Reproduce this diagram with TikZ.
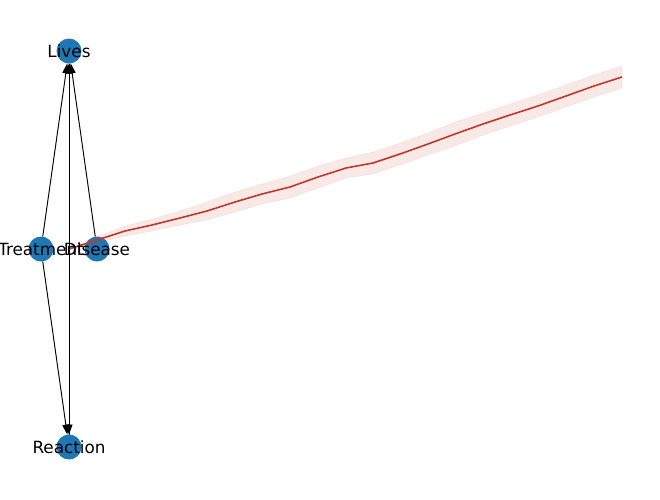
\documentclass[tikz,border=0pt]{standalone}
\usepackage{fontspec}
\setmainfont{DejaVu Sans}
\usetikzlibrary{arrows.meta}
\definecolor{nodeblue}{HTML}{1F77B4}
\definecolor{curvered}{RGB}{192,57,43}
\tikzset{
  vert/.style={circle, fill=nodeblue, draw=none, minimum size=25pt, inner sep=0pt, outer sep=0pt},
  lbl/.style={inner sep=0pt, font=\fontsize{16.8}{20}\selectfont, text=black},
  edge/.style={draw=black, line width=0.95pt, -{Triangle[length=10pt,width=7pt]}},
  curve/.style={draw=curvered, line width=1.6pt, line join=round},
  band/.style={fill=curvered, fill opacity=0.11, draw=curvered, draw opacity=0.08, line width=0.6pt}
}
\begin{document}
\begin{tikzpicture}[x=1pt,y=-1pt]
\clip (0,0) rectangle (660,499);
\fill[white] (0,0) rectangle (660,499);
% nodes
\node[vert] (L) at (69,51) {};
\node[vert] (T) at (41,249) {};
\node[vert] (D) at (97,249) {};
\node[vert] (R) at (69,447) {};
% edges
\draw[edge] (T) -- (L);
\draw[edge] (D) -- (L);
\draw[edge] (R) -- (L);
\draw[edge] (L) -- (R);
\draw[edge] (T) -- (R);
% band
\fill[band] (69,249) -- (97,237) -- (125,226) -- (152,219) -- (180,211) -- (207,202) -- (235,192) -- (262,184) -- (290,176) -- (318,166) -- (346,158) -- (373,152) -- (400,143) -- (428,133) -- (455,122) -- (483,113) -- (510,104) -- (538,95) -- (566,85) -- (594,75) -- (622,66)
 -- (622,88) -- (594,97) -- (566,107) -- (538,117) -- (510,126) -- (483,135) -- (455,146) -- (428,155) -- (400,165) -- (373,174) -- (346,178) -- (318,188) -- (290,198) -- (262,204) -- (235,212) -- (207,220) -- (180,225) -- (152,231) -- (125,236) -- (97,243) -- cycle;
% curve
\coordinate (c0) at (69,249);
\coordinate (c1) at (622,77);
\draw[curve] (c0) -- (97,240) -- (125,231) -- (152,225) -- (180,218) -- (207,211) -- (235,202) -- (262,194) -- (290,187) -- (318,177) -- (346,168) -- (373,163) -- (400,154) -- (428,144) -- (455,134) -- (483,124) -- (510,115) -- (538,106) -- (566,96) -- (594,86) -- (c1);
% labels
\node[lbl] (Ll) at (L) {Lives};
\node[lbl] (Tl) at (T) {Treatment};
\node[lbl] (Dl) at (D) {Disease};
\node[lbl] (Rl) at (R) {Reaction};
\end{tikzpicture}
\end{document}
